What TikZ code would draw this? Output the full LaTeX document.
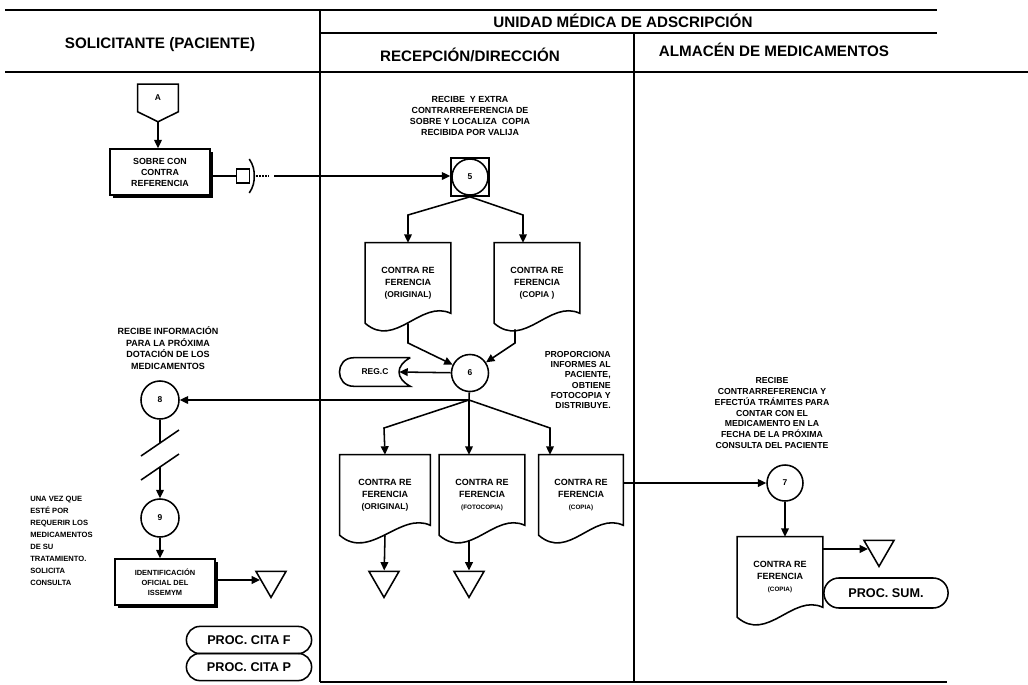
\documentclass[tikz,border=0pt]{standalone}
\usepackage{fontspec}
\setmainfont{Liberation Sans}
\usetikzlibrary{positioning,arrows.meta,calc,shapes.geometric,shapes.misc,shadows}

% document symbol drawn round a plain node
\newcommand{\docshape}[1]{%
  \draw[outline] (#1.north west) -- (#1.south west)
    .. controls +(30,26) and +(-30,-14) .. ($(#1.south east)+(0,-10)$)
    -- (#1.north east) -- cycle;}

\begin{document}
\begin{tikzpicture}[x=0.025cm,y=-0.025cm,
  head/.style={font=\fontsize{10.8}{13}\selectfont\bfseries},
  note/.style={align=center,inner sep=0pt,font=\fontsize{6.2}{7.6}\selectfont\bfseries},
  box/.style={draw,line width=1.1pt,fill=white,align=center,minimum width=2.5cm,
              minimum height=1.15cm,inner sep=1pt,
              drop shadow={shadow xshift=2pt,shadow yshift=-2pt,opacity=1,fill=black},
              font=\fontsize{6.3}{7.8}\selectfont\bfseries},
  doc/.style={align=center,minimum width=2.125cm,minimum height=2cm,inner sep=0pt,
              font=\fontsize{6.4}{8.4}\selectfont\bfseries},
  stage/.style={circle,draw,line width=1.1pt,fill=white,minimum size=0.95cm,inner sep=0pt,
                font=\fontsize{6}{7}\selectfont\bfseries},
  term/.style={rounded rectangle,draw,line width=1.1pt,minimum width=3.2cm,
               minimum height=0.68cm,inner sep=1pt,font=\fontsize{9}{10}\selectfont\bfseries},
  tri/.style={regular polygon,regular polygon sides=3,shape border rotate=180,draw,
              line width=1.1pt,minimum size=0.87cm,inner sep=0pt},
  outline/.style={line width=1.1pt},
  conn/.style={line width=1.1pt},
  arrow/.style={conn,-{Triangle[length=6pt,width=5.5pt]}},
  lane/.style={line width=0.9pt}
]
  \fill[white] (0,0) rectangle (1028,685);
  \useasboundingbox (0,0) rectangle (1028,685);

  % lanes and headings
  \draw[lane] (5,10) -- (937,10);
  \draw[lane] (320,33) -- (937,33);
  \draw[lane] (5,72) -- (1028,72);
  \draw[lane] (320,10) -- (320,682);
  \draw[lane] (634,33) -- (634,682);
  \draw[lane] (320,682) -- (947,682);
  \node[head] (hsol) at (160,45) {SOLICITANTE (PACIENTE)};
  \node[head] (humf) at (623,21) {UNIDAD MÉDICA DE ADSCRIPCIÓN};
  \node[head] (hrec) at (470,55) {RECEPCIÓN/DIRECCIÓN};
  \node[head] (halm) at (774,50) {ALMACÉN DE MEDICAMENTOS};

  % solicitante: entrada
  \node[minimum width=1cm,minimum height=0.675cm,inner sep=0pt,
        font=\fontsize{6}{7}\selectfont\bfseries] (conA) at (158,98) {A};
  \coordinate (conAtip) at ($(conA.south)+(0,10)$);
  \draw[outline] (conA.south west) -- (conA.north west) -- (conA.north east)
    -- (conA.south east) -- (conAtip) -- cycle;
  \node[box] (sobre) at (160,172) {SOBRE CON\\CONTRA\\REFERENCIA};
  \draw[arrow] (conAtip) -- (conAtip |- sobre.north);

  % recepcion: paso 5
  \node[draw,outline,minimum size=0.95cm,inner sep=0pt] (sq5) at (470,177) {};
  \node[stage,minimum size=0.9cm] (c5) at (sq5) {5};
  \node[note,font=\fontsize{6.3}{7.9}\selectfont\bfseries] (n5) at (470,116)
    {RECIBE \ Y EXTRA\\CONTRARREFERENCIA DE\\SOBRE Y LOCALIZA \ COPIA\\RECIBIDA POR VALIJA};

  % envio por valija
  \node[draw,outline,minimum width=0.325cm,minimum height=0.35cm,inner sep=0pt] (valija) at (243,176) {};
  \draw[conn] (sobre.east |- valija) -- (valija);
  \draw[outline] ($(valija.east)+(-1,-17)$) .. controls +(4,6) and +(0,-6) .. ($(valija.east)+(4,0)$)
    .. controls +(0,6) and +(4,-6) .. ($(valija.east)+(-1,17)$);
  \draw[conn,densely dotted] ($(valija.east)+(6,0)$) -- ++(13,0);
  \draw[arrow] ($(valija.east)+(24,0)$) -- (sq5.west |- valija);

  \node[doc] (d1a) at (408,283) {CONTRA RE\\FERENCIA\\{\fontsize{6}{8.4}\selectfont (ORIGINAL)}};
  \node[doc] (d1b) at (537,283) {CONTRA RE\\FERENCIA\\{\fontsize{6}{8.4}\selectfont (COPIA )}};
  \docshape{d1a}
  \docshape{d1b}
  \coordinate (f5l) at (408,215);
  \coordinate (f5r) at (523,215);
  \draw[arrow] (sq5.south) -- (f5l) -- (d1a.north);
  \draw[arrow] (sq5.south) -- (f5r) -- (f5r |- d1b.north);

  % paso 6
  \node[stage,minimum size=0.925cm] (c6) at (470,373) {6};
  \coordinate (j6l) at (408,343);
  \coordinate (j6r) at (515,343);
  \draw[arrow] (d1a.south) -- (j6l) -- (c6);
  \draw[arrow] ($(j6r |- d1b.south)+(0,6)$) -- (j6r) -- (c6);
  \node[minimum width=1.75cm,minimum height=0.7cm,inner sep=0pt,
        font=\fontsize{6}{7}\selectfont\bfseries] (regc) at (375,372) {REG.C};
  \draw[outline] (regc.north east) -- ($(regc.north west)+(14,0)$)
    .. controls +(-19,0) and +(-19,0) .. ($(regc.south west)+(14,0)$)
    -- (regc.south east) .. controls +(-15,-8) and +(-15,8) .. (regc.north east);
  \draw[arrow] (c6) -- ($(regc.east)+(-11,0)$);
  \node[note,align=right,anchor=east,font=\fontsize{6.2}{7.2}\selectfont\bfseries] (n6) at (611,380)
    {PROPORCIONA\\INFORMES AL\\PACIENTE,\\OBTIENE\\FOTOCOPIA Y\\DISTRIBUYE.};

  \coordinate (f6) at (469,400);
  \coordinate (f6l) at (384,428);
  \coordinate (f6r) at (550,428);
  \node[doc,minimum width=2.25cm] (d2a) at (385,495) {CONTRA RE\\FERENCIA\\{\fontsize{6}{8.4}\selectfont (ORIGINAL)}};
  \node[doc] (d2b) at (482,495) {CONTRA RE\\FERENCIA\\{\fontsize{4.5}{6}\selectfont (FOTOCOPIA)}};
  \node[doc,minimum width=2.1cm] (d2c) at (581,495) {CONTRA RE\\FERENCIA\\{\fontsize{4.5}{6}\selectfont (COPIA)}};
  \docshape{d2a}
  \docshape{d2b}
  \docshape{d2c}
  \draw[conn] (c6) -- (f6);
  \draw[arrow] (f6) -- (f6l) -- (d2a.north);
  \draw[arrow] (f6) -- (f6 |- d2b.north);
  \draw[arrow] (f6) -- (f6r) -- (f6r |- d2c.north);
  \node[tri] (t2a) at (384,580) {};
  \node[tri] (t2b) at (469,580) {};
  \draw[arrow] (d2a.south) -- (t2a);
  \draw[arrow] ($(t2b |- d2b.south)+(0,5)$) -- (t2b);

  % solicitante: pasos 8 y 9
  \node[stage] (c8) at (160,400) {8};
  \draw[arrow] (f6) -- (c8);
  \node[note,font=\fontsize{6.4}{8.3}\selectfont\bfseries] (n8) at (168,348)
    {RECIBE INFORMACIÓN\\PARA LA PRÓXIMA\\DOTACIÓN DE LOS\\MEDICAMENTOS};
  \coordinate (brk1) at (160,443);
  \coordinate (brk2) at (160,467);
  \node[stage] (c9) at (160,518) {9};
  \draw[conn] (c8) -- (brk1);
  \draw[conn] ($(brk1)+(-19,13)$) -- ($(brk1)+(19,-13)$);
  \draw[conn] ($(brk2)+(-19,13)$) -- ($(brk2)+(19,-13)$);
  \draw[arrow] (brk2) -- (c9);
  \node[note,align=left,anchor=north west,font=\fontsize{5.4}{8.5}\selectfont\bfseries] (n9) at (30,496)
    {UNA VEZ QUE\\ESTÉ POR\\REQUERIR LOS\\MEDICAMENTOS\\DE SU\\TRATAMIENTO.\\SOLICITA\\CONSULTA};
  \node[box,font=\fontsize{5.3}{7}\selectfont\bfseries] (idbox) at (165,582)
    {IDENTIFICACIÓN\\OFICIAL DEL\\ISSEMYM};
  \draw[arrow] (c9) -- (c9 |- idbox.north);
  \node[tri] (t9) at (271,580) {};
  \draw[arrow] (idbox.east |- t9) -- (t9);
  \node[term] (pcf) at (249,640) {PROC. CITA F};
  \node[term] (pcp) at (249,667) {PROC. CITA P};

  % almacen: paso 7
  \node[stage,minimum size=0.9cm] (c7) at (785,483) {7};
  \draw[arrow] (d2c.east |- c7) -- (c7);
  \node[note,font=\fontsize{6.2}{7.7}\selectfont\bfseries] (n7) at (772,413)
    {RECIBE\\CONTRARREFERENCIA Y\\EFECTÚA TRÁMITES PARA\\CONTAR CON EL\\MEDICAMENTO EN LA\\FECHA DE LA PRÓXIMA\\CONSULTA DEL PACIENTE};
  \node[doc] (d4) at (780,577) {CONTRA RE\\FERENCIA\\{\fontsize{4.5}{6}\selectfont (COPIA)}};
  \docshape{d4}
  \draw[arrow] (c7) -- (c7 |- d4.north);
  \node[tri] (t4) at (879,549) {};
  \draw[arrow] (d4.east |- t4) -- (t4);
  \node[term,minimum width=3.175cm,minimum height=0.75cm] (psum) at (886,593) {PROC. SUM.};
\end{tikzpicture}
\end{document}
